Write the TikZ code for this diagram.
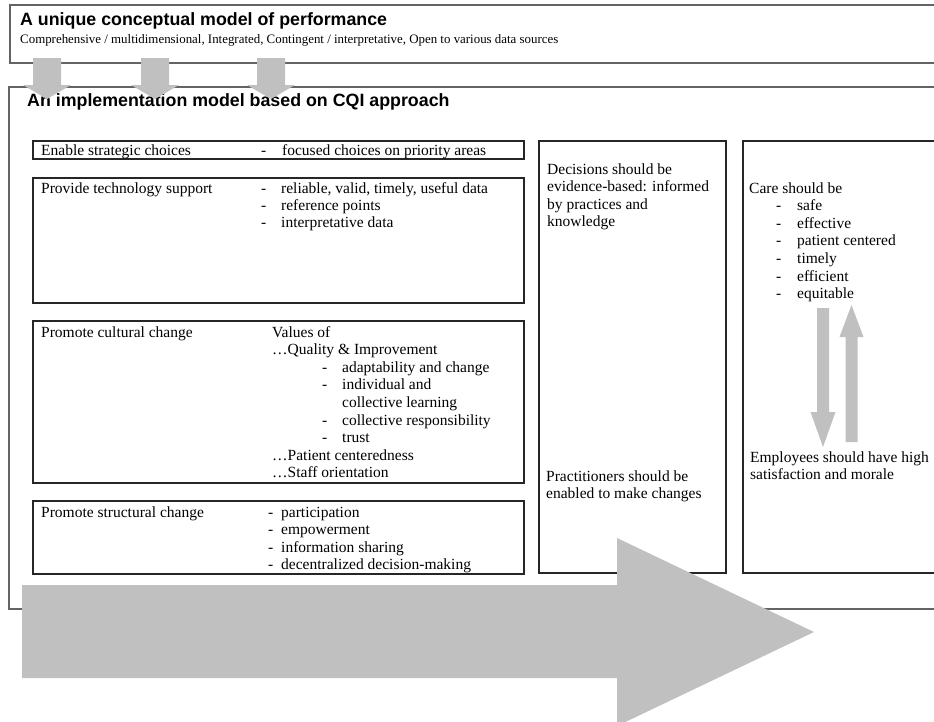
\documentclass[tikz,border=0pt]{standalone}
\usepackage{fontspec}
\setmainfont{Liberation Serif}
\newfontfamily\headfont{Liberation Sans}
\definecolor{arrowgray}{RGB}{192,192,192}
\definecolor{framegray}{RGB}{100,100,100}
\newcommand\bodysize{\fontsize{15.5}{17.4}\selectfont}
\begin{document}
\begin{tikzpicture}[x=1pt,y=-1pt,
  txt/.style={anchor=base west,inner sep=0pt,font=\bodysize},
  subtxt/.style={anchor=base west,inner sep=0pt,font=\fontsize{12.9}{15}\selectfont},
  headtxt/.style={anchor=base west,inner sep=0pt,font=\headfont\bfseries\fontsize{17.8}{20}\selectfont},
  outerbox/.style={draw=framegray,line width=1.8pt},
  innerbox/.style={draw=black!85,line width=1.1pt},
  blockarrow/.style={fill=arrowgray,draw=none}]
\useasboundingbox (0,0) rectangle (934,721);
\begin{scope}
\clip (0,0) rectangle (934,721);

% outer frames
\draw[outerbox] (10,5) rectangle (950,63);
\draw[outerbox] (9,87) rectangle (950,609);

% inner frames
\draw[innerbox] (33,141) rectangle (524,159);
\draw[innerbox] (33,178) rectangle (524,303);
\draw[innerbox] (33,321) rectangle (524,483);
\draw[innerbox] (33,501) rectangle (524,574);
\draw[innerbox] (539,141) rectangle (726,573);
\draw[innerbox] (743,141) rectangle (950,573);

% headings
\node[headtxt] (head1) at (20,25) {A unique conceptual model of performance};
\node[subtxt] (sub1) at (20,43.5) {Comprehensive / multidimensional, Integrated, Contingent / interpretative, Open to various data sources};
\node[headtxt] (head2) at (27,106) {An implementation model based on CQI approach};

% strategic choices
\node[txt] (strat) at (41,155) {Enable strategic choices};
\node[txt] (stratd) at (261,155) {-};
\node[txt] (strata) at (282,155) {focused choices on priority areas};

% technology support
\node[txt] (tech) at (41,193) {Provide technology support};
\node[txt] (techd1) at (261,193) {-};
\node[txt] (techa1) at (281,193) {reliable, valid, timely, useful data};
\node[txt] (techd2) at (261,210.4) {-};
\node[txt] (techa2) at (281,210.4) {reference points};
\node[txt] (techd3) at (261,227.8) {-};
\node[txt] (techa3) at (281,227.8) {interpretative data};

% cultural change
\node[txt] (cult) at (41,337) {Promote cultural change};
\node[txt] (cult0) at (272,337) {Values of};
\node[txt] (cult1) at (272,354.6) {…Quality \& Improvement};
\node[txt] (cultd2) at (322,372.2) {-};
\node[txt] (cult2) at (342,372.2) {adaptability and change};
\node[txt] (cultd3) at (322,389.8) {-};
\node[txt] (cult3) at (342,389.8) {individual and};
\node[txt] (cult4) at (342,407.4) {collective learning};
\node[txt] (cultd5) at (322,425) {-};
\node[txt] (cult5) at (342,425) {collective responsibility};
\node[txt] (cultd6) at (322,442.6) {-};
\node[txt] (cult6) at (342,442.6) {trust};
\node[txt] (cult7) at (272,460.2) {…Patient centeredness};
\node[txt] (cult8) at (272,477.8) {…Staff orientation};

% structural change
\node[txt] (struc) at (41,517) {Promote structural change};
\node[txt] (strucd1) at (268,517) {-};
\node[txt] (struc1) at (281,517) {participation};
\node[txt] (strucd2) at (268,534.6) {-};
\node[txt] (struc2) at (281,534.6) {empowerment};
\node[txt] (strucd3) at (268,552.2) {-};
\node[txt] (struc3) at (281,552.2) {information sharing};
\node[txt] (strucd4) at (268,569.8) {-};
\node[txt] (struc4) at (281,569.8) {decentralized decision-making};

% decisions column
\node[txt] (dec1) at (547,174) {Decisions should be};
\node[txt] (dec2) at (547,191.6) {evidence-based: informed};
\node[txt] (dec3) at (547,209.2) {by practices and};
\node[txt] (dec4) at (547,226.8) {knowledge};
\node[txt] (prac1) at (546,481) {Practitioners should be};
\node[txt] (prac2) at (546,498) {enabled to make changes};

% care column
\node[txt] (care) at (749,193) {Care should be};
\foreach \i/\w in {1/safe,2/effective,3/patient centered,4/timely,5/efficient,6/equitable}{
  \node[txt] (cared\i) at (776,193+17.6*\i) {-};
  \node[txt] (carei\i) at (797,193+17.6*\i) {\w};
}
\node[txt] (emp1) at (750,462) {Employees should have high};
\node[txt] (emp2) at (750,479.5) {satisfaction and morale};

% block arrows from the conceptual model into the implementation model
\foreach \c in {47,155,271}{
  \fill[blockarrow] (\c-14,58) -- (\c+14,58) -- (\c+14,85) -- (\c+24,85)
    -- (\c,99) -- (\c-24,85) -- (\c-14,85) -- cycle;
}

% care <-> employees arrows
\fill[blockarrow] (817,308) -- (829,308) -- (829,412) -- (835.5,412) -- (823,447)
  -- (810.5,412) -- (817,412) -- cycle;
\fill[blockarrow] (845.5,442) -- (857.5,442) -- (857.5,337) -- (863.5,337) -- (851.5,305)
  -- (839.5,337) -- (845.5,337) -- cycle;

% large progress arrow
\fill[blockarrow] (22,585) -- (617,585) -- (617,538) -- (814,632) -- (617,726)
  -- (617,678) -- (22,678) -- cycle;
\end{scope}
\end{tikzpicture}
\end{document}
